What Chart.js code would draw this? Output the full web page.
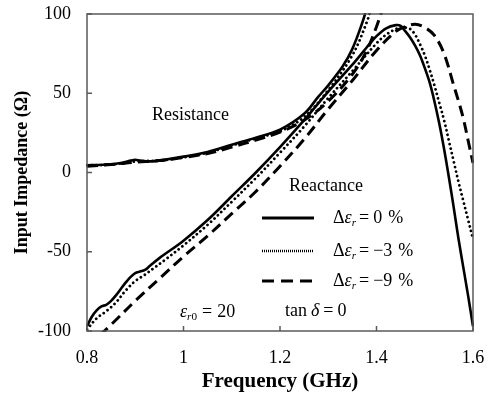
<!DOCTYPE html>
<html>
<head>
<meta charset="utf-8">
<script src="https://cdn.jsdelivr.net/npm/chart.js@4/dist/chart.umd.min.js"></script>
<style>
  body { margin: 0; background: #fff; }
</style>
</head>
<body>
<canvas id="myChart" width="489" height="394"></canvas>
<script>
// frequency (GHz) / impedance (Ohm) for each curve
var fRes0 = [0.80, 0.84, 0.87, 0.89, 0.90, 0.91, 0.93, 0.96, 1.00, 1.05, 1.10, 1.15, 1.20, 1.25, 1.28, 1.30, 1.33, 1.35, 1.37, 1.38, 1.39];
var res0  = [4.5, 5, 6, 7.5, 8, 7.5, 7, 8, 10, 13, 17.5, 22, 27, 37, 48, 55, 67, 78, 94, 104, 116];

var fRes3 = [0.80, 0.85, 0.90, 0.95, 1.00, 1.05, 1.10, 1.15, 1.20, 1.25, 1.30, 1.35, 1.38, 1.39, 1.40];
var res3  = [4.5, 5, 7, 7.5, 9.5, 12.5, 17, 21.5, 26, 35, 52, 74, 95, 105, 116];

var fRes9 = [0.80, 0.85, 0.90, 0.95, 1.00, 1.05, 1.10, 1.15, 1.20, 1.25, 1.30, 1.35, 1.38, 1.40, 1.41, 1.42];
var res9  = [4, 5, 6.5, 7.5, 9.5, 12, 16, 20.5, 25.5, 33, 45, 62, 77, 92, 101, 112];

var fReac0 = [0.80, 0.81, 0.82, 0.83, 0.84, 0.85, 0.86, 0.87, 0.88, 0.89, 0.90, 0.91, 0.92, 0.93, 0.95, 1.00, 1.05, 1.10, 1.15, 1.20, 1.25, 1.30, 1.35, 1.38, 1.40, 1.42, 1.44, 1.45, 1.46, 1.47, 1.48, 1.49, 1.50, 1.51, 1.52, 1.53, 1.54, 1.55, 1.56, 1.57, 1.58, 1.59, 1.60];
var reac0  = [-97, -91, -87, -84.5, -83.5, -81, -77.5, -73.5, -69.5, -66, -63.5, -62.5, -61.5, -59, -54, -43, -30, -15, 0, 16, 33, 51, 68, 79, 86, 91, 93, 92.5, 89, 85, 80, 74, 66, 57, 45, 31, 15, -3, -22, -42, -60, -78, -97];

var fReac3 = [0.80, 0.82, 0.84, 0.86, 0.88, 0.90, 0.92, 0.94, 0.96, 1.00, 1.05, 1.10, 1.15, 1.20, 1.25, 1.30, 1.35, 1.40, 1.42, 1.44, 1.45, 1.46, 1.47, 1.48, 1.49, 1.50, 1.51, 1.52, 1.53, 1.54, 1.55, 1.56, 1.57, 1.58, 1.59, 1.60];
var reac3  = [-99, -92, -87.5, -82, -74.5, -68.5, -64.5, -60, -55.5, -46, -33, -18.5, -3.5, 12.5, 29, 47, 64, 81.5, 87, 90.5, 91.5, 91.5, 90.5, 87, 81, 74, 65, 55, 44, 33, 20, 7, -6, -18, -30, -42];

var fReac9 = [0.80, 0.85, 0.90, 0.95, 1.00, 1.05, 1.10, 1.15, 1.20, 1.25, 1.30, 1.35, 1.40, 1.44, 1.46, 1.48, 1.50, 1.52, 1.54, 1.56, 1.57, 1.58, 1.59, 1.60];
var reac9  = [-110, -96, -81, -67, -53, -40, -26, -12, 4, 21, 40, 58, 77, 89, 92, 93.5, 91.5, 86.5, 75, 55, 45, 34, 20, 6];

var xTicks = [0.8, 1, 1.2, 1.4, 1.6];
var yTicks = [-100, -50, 0, 50, 100];
var deltaLabels = ['0', '\u22123', '\u22129'];

function pts(f, v) {
  return f.map(function (x, i) { return { x: x, y: v[i] }; });
}

var solid  = { borderDash: [], borderWidth: 2.6, borderCapStyle: 'butt' };
var dotted = { borderDash: [0.01, 4.7], borderWidth: 2.8, borderCapStyle: 'round' };
var dashed = { borderDash: [11, 6], borderWidth: 3, borderCapStyle: 'butt' };

function ds(f, v, st) {
  return Object.assign({
    data: pts(f, v),
    borderColor: '#000',
    pointRadius: 0,
    tension: 0.35,
    fill: false,
    clip: 1
  }, st);
}

var SERIF = '"Liberation Serif", "Times New Roman", serif';

function richText(ctx, x, y, parts, size) {
  var cx = x;
  parts.forEach(function (p) {
    var fs = p.sub ? size * 0.62 : size;
    ctx.font = (p.it ? 'italic ' : '') + fs + 'px ' + SERIF;
    ctx.fillText(p.t, cx, y + (p.sub ? size * 0.3 : 0));
    cx += ctx.measureText(p.t).width + (p.gap || 0);
  });
}

var frame = {
  id: 'frame',
  afterDraw: function (chart) {
    var ctx = chart.ctx, a = chart.chartArea;
    var xs = chart.scales.x, ys = chart.scales.y;
    ctx.save();
    ctx.strokeStyle = '#5a5a5a';
    ctx.lineWidth = 1.5;
    ctx.strokeRect(a.left, a.top, a.right - a.left, a.bottom - a.top);
    ctx.beginPath();
    xTicks.forEach(function (t) {
      var px = xs.getPixelForValue(t);
      ctx.moveTo(px, a.bottom); ctx.lineTo(px, a.bottom - 5);
    });
    yTicks.forEach(function (t) {
      var py = ys.getPixelForValue(t);
      ctx.moveTo(a.left, py); ctx.lineTo(a.left + 5, py);
    });
    ctx.stroke();

    // legend
    var styles = [
      { dash: [], w: 3 },
      { dash: [1, 1], w: 2.5 },
      { dash: [12, 7], w: 3.2 }
    ];
    var ly = [218, 251, 281];
    ctx.strokeStyle = '#000';
    ctx.lineCap = 'butt';
    styles.forEach(function (s, i) {
      ctx.beginPath();
      ctx.setLineDash(s.dash);
      ctx.lineWidth = s.w;
      ctx.moveTo(262, ly[i]); ctx.lineTo(314, ly[i]);
      ctx.stroke();
    });
    ctx.setLineDash([]);

    ctx.fillStyle = '#000';
    ctx.textBaseline = 'middle';
    ctx.textAlign = 'left';
    deltaLabels.forEach(function (d, i) {
      richText(ctx, 333, ly[i], [
        { t: '\u0394' }, { t: '\u03b5', it: true }, { t: 'r', it: true, sub: true, gap: 3 },
        { t: '=', gap: 4 }, { t: d, gap: 6 }, { t: '%' }
      ], 18);
    });

    ctx.font = '18px ' + SERIF;
    ctx.fillText('Resistance', 152, 115);
    ctx.fillText('Reactance', 289, 186);
    richText(ctx, 180, 312, [
      { t: '\u03b5', it: true }, { t: 'r', it: true, sub: true }, { t: '0', sub: true, gap: 5 },
      { t: '=', gap: 5 }, { t: '20' }
    ], 18);
    richText(ctx, 285, 311, [
      { t: 'tan', gap: 4 }, { t: '\u03b4', it: true, gap: 4 }, { t: '=', gap: 4 }, { t: '0' }
    ], 18);
    ctx.restore();
  }
};

new Chart(document.getElementById('myChart').getContext('2d'), {
  type: 'line',
  data: {
    datasets: [
      ds(fRes0, res0, solid),
      ds(fRes3, res3, dotted),
      ds(fRes9, res9, dashed),
      ds(fReac0, reac0, solid),
      ds(fReac3, reac3, dotted),
      ds(fReac9, reac9, dashed)
    ]
  },
  options: {
    responsive: false,
    animation: false,
    layout: { padding: { top: 14, right: 16, left: 0, bottom: 0 } },
    plugins: { legend: { display: false }, tooltip: { enabled: false } },
    scales: {
      x: {
        type: 'linear',
        min: 0.8, max: 1.6,
        afterBuildTicks: function (s) { s.ticks = xTicks.map(function (v) { return { value: v }; }); },
        afterFit: function (s) {
          s.height = 63;
          s.paddingLeft = 0; s.paddingRight = 0;
        },
        grid: { display: false },
        border: { display: false },
        ticks: {
          color: '#000', padding: 8,
          font: { family: SERIF, size: 18 },
          callback: function (v) { return String(v); }
        },
        title: {
          display: true, text: 'Frequency (GHz)', color: '#000',
          font: { family: SERIF, size: 21, weight: 'bold' },
          padding: { top: 2, bottom: 0 }
        }
      },
      y: {
        type: 'linear',
        min: -100, max: 100,
        afterBuildTicks: function (s) { s.ticks = yTicks.map(function (v) { return { value: v }; }); },
        afterFit: function (s) {
          s.width = 87;
          s.paddingTop = 0; s.paddingBottom = 0;
        },
        grid: { display: false },
        border: { display: false },
        ticks: {
          color: '#000', padding: 8,
          font: { family: SERIF, size: 18 }
        },
        title: {
          display: true, text: 'Input Impedance (\u03a9)', color: '#000',
          font: { family: SERIF, size: 18, weight: 'bold' },
          padding: { top: 12, bottom: 0 }
        }
      }
    }
  },
  plugins: [frame]
});
</script>
</body>
</html>
